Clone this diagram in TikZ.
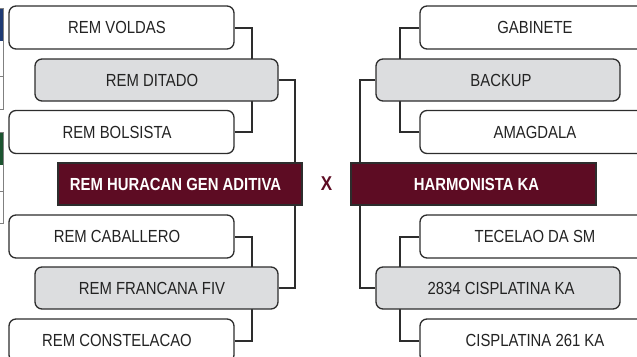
\documentclass[tikz,border=0pt]{standalone}
\usepackage{fontspec}
\setmainfont{Liberation Sans}[FakeStretch=0.85]
\definecolor{maroon}{RGB}{93,12,35}
\definecolor{boxgray}{RGB}{220,221,223}
\definecolor{edge}{RGB}{45,45,45}
\definecolor{txt}{RGB}{35,35,35}
\definecolor{stripblue}{RGB}{30,58,115}
\definecolor{stripgreen}{RGB}{28,84,48}
\begin{document}
\begin{tikzpicture}[x=1pt,y=-1pt,
  font=\fontsize{17.5}{20}\selectfont,
  wbox/.style={draw=edge,line width=1.3pt,fill=white,rounded corners=7pt,
    minimum width=225pt,minimum height=43pt,inner sep=0pt,text=txt},
  gbox/.style={draw=edge,line width=1.3pt,fill=boxgray,rounded corners=7pt,
    minimum width=243pt,minimum height=42pt,inner sep=0pt,text=txt},
  mbox/.style={draw=edge,line width=1.3pt,fill=maroon,
    minimum width=244pt,minimum height=42pt,inner sep=0pt,text=white,font=\fontsize{17.5}{20}\selectfont\bfseries},
  lefttxt/.style={execute at begin node=\kern-9pt},
  righttxt/.style={execute at begin node=\kern6pt},
  conn/.style={draw=edge,line width=2pt}]
\useasboundingbox (0,0) rectangle (637,356);
\clip (0,0) rectangle (637,356);
% left edge strip
\fill[stripblue] (-5,8) rectangle (3,41);
\draw[gray,line width=0.6pt] (-5,8) rectangle (3,109);
\draw[gray,line width=0.6pt] (-5,76) -- (3,76);
\fill[stripgreen] (-5,132) rectangle (3,165);
\draw[gray,line width=0.6pt] (-5,132) rectangle (3,223);
\draw[gray,line width=0.6pt] (-5,191) -- (3,191);
% junction coordinates
\coordinate (jL1) at (252,0);
\coordinate (jL2) at (295,0);
\coordinate (jR1) at (400,0);
\coordinate (jR2) at (360,0);
% left nodes
\node[wbox,lefttxt] (voldas) at (121.5,27.5) {REM VOLDAS};
\node[wbox,lefttxt] (bolsista) at (121.5,132) {REM BOLSISTA};
\node[wbox,lefttxt] (caballero) at (121.5,236.5) {REM CABALLERO};
\node[wbox,lefttxt] (constelacao) at (121.5,340.5) {REM CONSTELACAO};
% right white nodes
\node[wbox,minimum width=230pt] (gabinete) at (535,27.5) {GABINETE};
\node[wbox,minimum width=230pt] (amagdala) at (535,132) {AMAGDALA};
\node[wbox,minimum width=230pt] (tecelao) at (535,236.5) {TECELAO DA SM};
\node[wbox,minimum width=230pt] (cisp261) at (535,340.5) {CISPLATINA 261 KA};
% connectors from white boxes
\draw[conn] (voldas.east) -| (jL1 |- 0,62);
\draw[conn] (bolsista.east) -| (jL1 |- 0,98);
\draw[conn] (caballero.east) -| (jL1 |- 0,270);
\draw[conn] (constelacao.east) -| (jL1 |- 0,306);
\draw[conn] (gabinete.west) -| (jR1 |- 0,62);
\draw[conn] (amagdala.west) -| (jR1 |- 0,98);
\draw[conn] (tecelao.west) -| (jR1 |- 0,270);
\draw[conn] (cisp261.west) -| (jR1 |- 0,306);
% gray nodes
\node[gbox,lefttxt] (ditado) at (156.5,80) {REM DITADO};
\node[gbox,lefttxt] (francana) at (156.5,288) {REM FRANCANA FIV};
\node[gbox,minimum width=244pt,righttxt] (backup) at (498,80) {BACKUP};
\node[gbox,minimum width=244pt,righttxt] (cisp2834) at (498,288) {2834 CISPLATINA KA};
% connectors to main boxes
\draw[conn] (ditado.east) -| (jL2 |- 0,166);
\draw[conn] (francana.east) -| (jL2 |- 0,202);
\draw[conn] (backup.west) -| (jR2 |- 0,166);
\draw[conn] (cisp2834.west) -| (jR2 |- 0,202);
% main nodes
\node[mbox,lefttxt] (mainL) at (180,184) {REM HURACAN GEN ADITIVA};
\node[mbox,minimum width=245pt,righttxt] (mainR) at (473.5,184) {HARMONISTA KA};
\node[text=maroon,font=\fontsize{20}{22}\selectfont\bfseries] (vs) at (326.5,184) {X};
\end{tikzpicture}
\end{document}
